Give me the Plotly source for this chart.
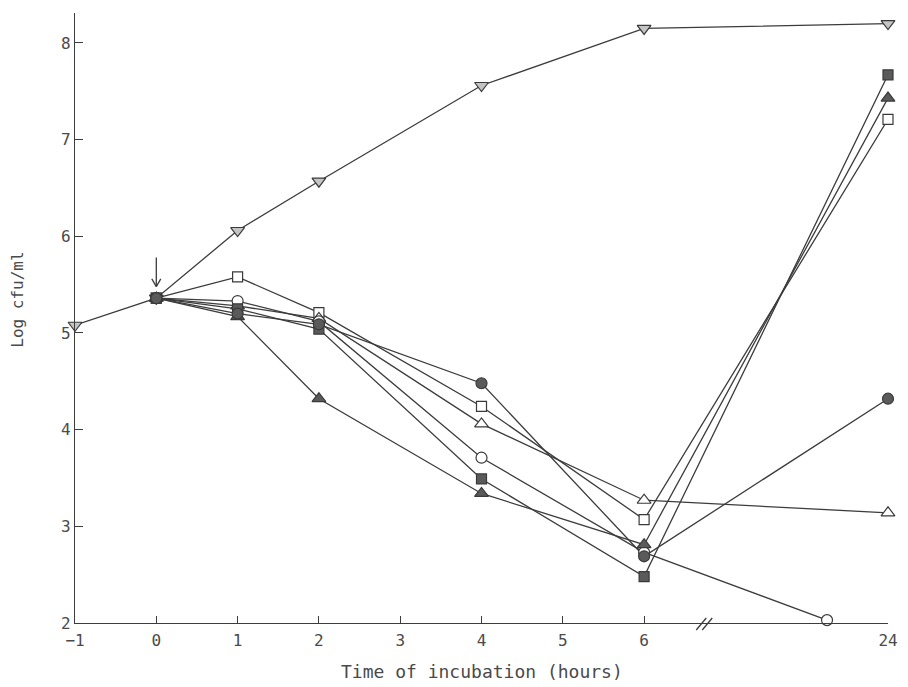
import plotly.graph_objects as go

# ---- data (hours, Log cfu/ml) ----
tick_hours = [-1, 0, 1, 2, 3, 4, 5, 6, 24]
tick_labels = ["\u22121", "0", "1", "2", "3", "4", "5", "6", "24"]
y_ticks = [2, 3, 4, 5, 6, 7, 8]

control_t = [-1, 0, 1, 2, 4, 6, 24]
control_v = [5.08, 5.36, 6.06, 6.57, 7.56, 8.15, 8.20]

open_square_t = [0, 1, 2, 4, 6, 24]
open_square_v = [5.36, 5.58, 5.21, 4.24, 3.07, 7.21]

open_triangle_t = [0, 1, 2, 4, 6, 24]
open_triangle_v = [5.36, 5.28, 5.15, 4.06, 3.27, 3.14]

open_circle_t = [0, 1, 2, 4, 6, 19.5]
open_circle_v = [5.36, 5.33, 5.12, 3.71, 2.73, 2.03]

filled_square_t = [0, 1, 2, 4, 6, 24]
filled_square_v = [5.36, 5.25, 5.04, 3.49, 2.48, 7.67]

filled_triangle_t = [0, 1, 2, 4, 6, 24]
filled_triangle_v = [5.36, 5.17, 4.32, 3.34, 2.81, 7.43]

filled_circle_t = [0, 1, 2, 4, 6, 24]
filled_circle_v = [5.36, 5.20, 5.09, 4.48, 2.69, 4.32]

addition_time = 0
addition_level = 5.36


# broken time axis: 0-6 h linear, then 6-24 h compressed to 3 units
def to_axis(h):
    if h <= 6:
        return h
    return 6 + (h - 6) * 3.0 / 18.0


LINE = "#3c3c3c"
OPEN_FILL = "white"
SOLID_FILL = "#5a5a5a"

series = [
    (control_t, control_v, "triangle-down", "#c4c4c4", 12),
    (open_square_t, open_square_v, "square", OPEN_FILL, 10),
    (open_triangle_t, open_triangle_v, "triangle-up", OPEN_FILL, 12),
    (open_circle_t, open_circle_v, "circle", OPEN_FILL, 11),
    (filled_square_t, filled_square_v, "square", SOLID_FILL, 10),
    (filled_triangle_t, filled_triangle_v, "triangle-up", SOLID_FILL, 12),
    (filled_circle_t, filled_circle_v, "circle", SOLID_FILL, 11),
]

fig = go.Figure()

for t, v, sym, fill, size in series:
    fig.add_trace(go.Scatter(
        x=[to_axis(h) for h in t], y=v, mode="lines",
        line=dict(color=LINE, width=1.3), showlegend=False,
        hoverinfo="skip", cliponaxis=False))

for t, v, sym, fill, size in series:
    fig.add_trace(go.Scatter(
        x=[to_axis(h) for h in t], y=v, mode="markers",
        marker=dict(symbol=sym, size=size, color=fill,
                    line=dict(color="#3a3a3a", width=1.2)),
        showlegend=False, cliponaxis=False))

# arrow marking the time of addition (open "V" head)
ax0 = to_axis(addition_time)
tip = addition_level + 0.12
fig.add_shape(type="line", xref="x", yref="y", x0=ax0, x1=ax0,
              y0=tip, y1=tip + 0.30, line=dict(color=LINE, width=1.3))
for s in (-1, 1):
    fig.add_shape(type="line", xref="x", yref="y", x0=ax0 + s * 0.055,
                  x1=ax0, y0=tip + 0.08, y1=tip,
                  line=dict(color=LINE, width=1.3))

# axis-break marks "//" (pixel-sized around the break position)
brk = 6.74
for dx in (-3, 3):
    fig.add_shape(type="line", xref="x", yref="paper",
                  xsizemode="pixel", ysizemode="pixel",
                  xanchor=brk, yanchor=0,
                  x0=dx - 5, x1=dx + 5, y0=-7, y1=5,
                  line=dict(color=LINE, width=1.3))

font_family = "DejaVu Sans Mono, Liberation Mono, monospace"
TEXT = "#4a4a4a"

fig.add_annotation(text="Time of incubation (hours)", xref="paper", yref="paper",
                   x=0.5, y=-0.08, xanchor="center", yanchor="middle",
                   showarrow=False, font=dict(size=18, color=TEXT))
fig.add_annotation(text="Log cfu/ml", xref="paper", yref="paper",
                   x=0, xshift=-57, y=0.53, xanchor="center", yanchor="middle",
                   textangle=-90, showarrow=False, font=dict(size=16, color=TEXT))

fig.update_layout(
    width=908, height=687,
    margin=dict(l=75, r=10, t=13, b=64),
    paper_bgcolor="white", plot_bgcolor="white",
    font=dict(family=font_family, size=16, color=TEXT),
    xaxis=dict(
        range=[-1, 9], showgrid=False, zeroline=False,
        showline=True, linecolor=LINE, linewidth=1.3,
        tickmode="array", tickvals=[to_axis(h) for h in tick_hours],
        ticktext=tick_labels, ticks="inside", ticklen=7,
        tickcolor=LINE, tickwidth=1.3,
        tickfont=dict(size=16), ticklabelstandoff=3,
    ),
    yaxis=dict(
        range=[2, 8.31], showgrid=False, zeroline=False,
        showline=True, linecolor=LINE, linewidth=1.3,
        tickmode="array", tickvals=y_ticks, ticks="inside", ticklen=8,
        tickcolor=LINE, tickwidth=1.3,
        tickfont=dict(size=16), ticklabelstandoff=0,
    ),
)

fig.write_html("out.html", config={"displayModeBar": False},
               post_script="document.body.style.margin='0px';")
